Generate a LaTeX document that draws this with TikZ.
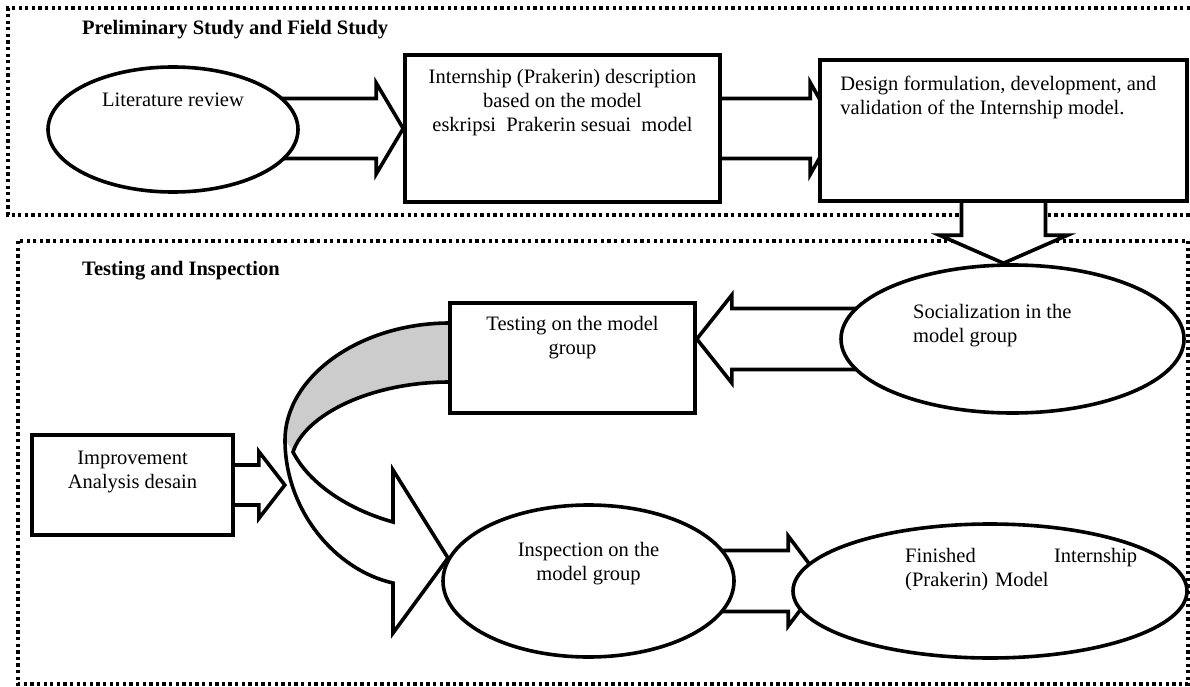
\documentclass[tikz,border=0pt]{standalone}
\usepackage{fontspec}
\setmainfont{Liberation Serif}
\usetikzlibrary{shapes.geometric,calc}
\pgfdeclarelayer{frames}
\pgfdeclarelayer{arrows}
\pgfsetlayers{frames,arrows,main}

\tikzset{
  stage/.style={draw=black, line width=3.2pt, dash pattern=on 3.3pt off 3.3pt},
  box/.style={draw, rectangle, line width=3.6pt, fill=white, inner sep=0pt},
  oval/.style={draw, ellipse, line width=3.6pt, fill=white, inner sep=0pt},
  txt/.style={font=\fontsize{20.5}{24}\selectfont, inner sep=0pt},
  title/.style={font=\fontsize{20.5}{24}\selectfont\bfseries, inner sep=0pt, anchor=north west},
  blockarrow/.style={draw, line width=3.6pt, fill=white, line join=miter},
}

% block arrow: tip, direction, length, half shaft, half head, head length
\newcommand{\blockarrow}[6]{%
  \begin{scope}[shift={(#1)}, rotate=#2]
    \draw[blockarrow] (-#3,-#4) -- (-#6,-#4) -- (-#6,-#5) -- (0,0)
      -- (-#6,#5) -- (-#6,#4) -- (-#3,#4);
  \end{scope}}

\begin{document}
\begin{tikzpicture}[x=1pt,y=-1pt]
\useasboundingbox (0,0) rectangle (1190,687);

% Preliminary study
\node[title] (t1) at (82,20.5) {Preliminary Study and Field Study};
\node[oval, minimum width=250pt, minimum height=125pt] (lit) at (173,129.5) {};
\node[txt] (littxt) at ($(lit.center)+(0,-29.5)$) {Literature review};
\node[box, minimum width=315pt, minimum height=147pt] (intern) at (562.5,128.5) {};
\node[txt, anchor=north, align=center] (interntxt) at ($(intern.north)+(0,15.5)$)
  {Internship (Prakerin) description\\based on the model\\eskripsi~ Prakerin sesuai~ model};
\node[box, minimum width=367pt, minimum height=141pt] (design) at (1003.5,130.5) {};
\node[txt, anchor=north west, align=left] (designtxt) at ($(design.north west)+(22,17.5)$)
  {Design formulation, development, and\\validation of the Internship model.};

% Testing and inspection
\node[title] (t2) at (82,261) {Testing and Inspection};
\node[oval, minimum width=343pt, minimum height=148pt] (social) at (1012.5,339) {};
\node[txt, anchor=north west, align=left] (socialtxt) at ($(social.center)+(-99.5,-34.5)$)
  {Socialization in the\\model group};
\node[box, minimum width=245pt, minimum height=110pt] (test) at (572.5,358) {};
\node[txt, anchor=north, align=center] (testtxt) at ($(test.north)+(0,14.5)$)
  {Testing on the model\\group};
\node[box, minimum width=201pt, minimum height=100pt] (improve) at (132.5,485) {};
\node[txt, anchor=north, align=center] (improvetxt) at ($(improve.north)+(0,17.5)$)
  {Improvement\\Analysis desain};
\node[oval, minimum width=291pt, minimum height=152pt] (inspect) at (588.5,581) {};
\node[txt, anchor=north, align=center] (inspecttxt) at ($(inspect.center)+(0,-38.5)$)
  {Inspection on the\\model group};
\node[oval, minimum width=394pt, minimum height=134pt] (finish) at (990,591) {};
\node[txt, anchor=north west, align=left, text width=232pt] (finishtxt) at ($(finish.center)+(-85,-42.5)$)
  {Finished\hfill Internship\\(Prakerin) Model};

% Arrows
\begin{pgfonlayer}{arrows}
\blockarrow{intern.west}{0}{150}{30}{45.5}{27}
\coordinate (tip2) at ($(intern.east -| design.west)+(18,0)$);
\blockarrow{tip2}{0}{128}{30}{46}{26}
\coordinate (tip3) at (design.south |- social.north);
\blockarrow{tip3}{-90}{74}{42}{64}{28}
\coordinate (tip4) at (test.east |- social.center);
\blockarrow{tip4}{180}{175}{30.5}{44}{35}
\coordinate (tip5) at ($(improve.east)+(50,0)$);
\blockarrow{tip5}{0}{60}{20}{33.5}{26}
\coordinate (tip6) at ($(finish.west |- inspect.east)+(31,0)$);
\blockarrow{tip6}{0}{125}{30.5}{45}{34}

% curved arrow from testing to inspection
\fill[black!20] (450,323) .. controls (358,323) and (285,378) .. (285,440) -- (293,452)
  .. controls (305,415) and (370,382) .. (450,382) -- cycle;
\fill[white] (285,440) .. controls (285,510) and (335,570) .. (393,583) -- (393,633)
  -- (448,558) -- (393,470) -- (393,522) .. controls (350,510) and (310,485) .. (293,452) -- cycle;
\draw[line width=3.6pt, line join=miter] (450,323) .. controls (358,323) and (285,378) .. (285,440)
  .. controls (285,510) and (335,570) .. (393,583) -- (393,633) -- (448,558) -- (393,470)
  -- (393,522) .. controls (350,510) and (310,485) .. (293,452)
  .. controls (305,415) and (370,382) .. (450,382);
\end{pgfonlayer}

% Frames
\begin{pgfonlayer}{frames}
\draw[stage] (1190,8) -- (8,8) -- (8,215) -- (1190,215);
\draw[stage] (18,241) rectangle (1188,684);
\end{pgfonlayer}
\end{tikzpicture}
\end{document}
